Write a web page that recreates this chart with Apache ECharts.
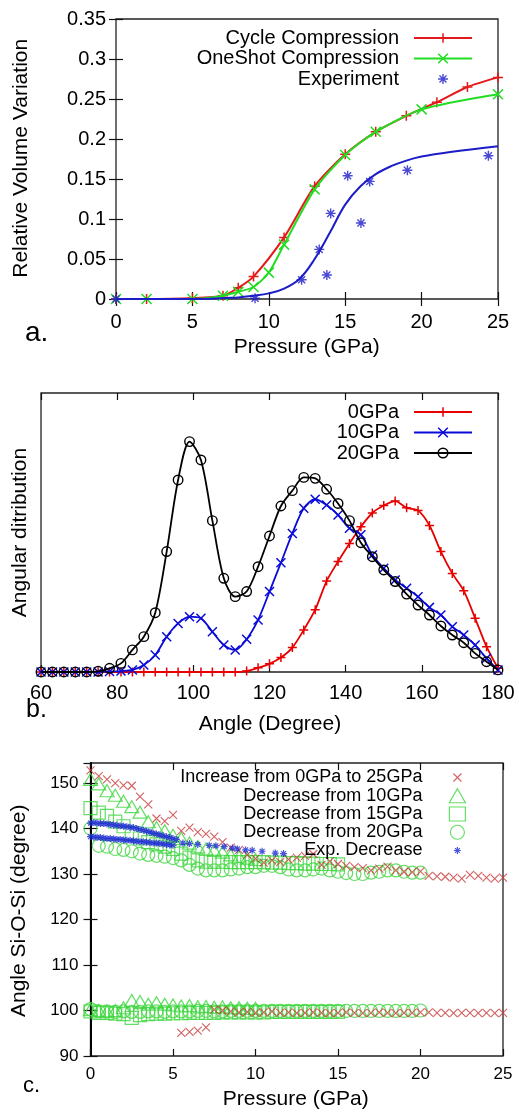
<!DOCTYPE html>
<html><head><meta charset="utf-8">
<script src="https://cdn.jsdelivr.net/npm/echarts@6/dist/echarts.min.js"></script>
<style>html,body{margin:0;padding:0;background:#fff}#c{width:519px;height:1113px}</style>
</head><body><div id="c"></div>
<script>
// ---------- Panel a: relative volume variation vs pressure ----------
const pA_cycleP = [0, 2, 5, 7, 8, 9, 11, 13, 15, 17, 19, 21, 23, 25];
const pA_cycleV = [0, 0, 0.001, 0.004, 0.014, 0.028, 0.077, 0.141, 0.181, 0.209, 0.229, 0.246, 0.265, 0.277];
const pA_oneShotP = [0, 2, 5, 7, 8, 9, 10, 11, 13, 15, 17, 20, 25];
const pA_oneShotV = [0, 0, 0, 0.004, 0.009, 0.015, 0.033, 0.068, 0.137, 0.180, 0.209, 0.237, 0.256];
const pA_expP = [0, 9.1, 12.15, 13.3, 13.8, 14.05, 15.16, 16.03, 16.6, 19.07, 24.37];
const pA_expV = [0, 0.001, 0.024, 0.062, 0.030, 0.107, 0.154, 0.095, 0.147, 0.161, 0.179];
const pA_fitP = [0, 5, 8, 9, 10, 11, 12, 13, 14, 15, 16, 17, 18, 19, 20, 22, 25];
const pA_fitV = [0, 0, 0.002, 0.004, 0.007, 0.013, 0.025, 0.05, 0.083, 0.118, 0.141, 0.156, 0.166, 0.173, 0.178, 0.184, 0.191];

// ---------- Panel b: angular distribution ----------
const pB_angle = [60,63,66,69,72,75,78,81,84,87,90,93,96,99,102,105,108,111,114,117,120,123,126,129,132,135,138,141,144,147,150,153,156,159,162,165,168,171,174,177,180];
const pB_0GPa = [0,0,0,0,0,0,0,0,0,0,0,0,0,0,0,0,0,0,0.004,0.018,0.035,0.062,0.105,0.181,0.268,0.391,0.475,0.553,0.625,0.684,0.716,0.735,0.706,0.695,0.630,0.518,0.424,0.350,0.231,0.109,0.016];
const pB_10GPa = [0,0,0,0,0,0,0.002,0.004,0.009,0.030,0.073,0.152,0.209,0.238,0.231,0.173,0.116,0.095,0.141,0.224,0.346,0.470,0.596,0.704,0.743,0.718,0.675,0.618,0.590,0.503,0.446,0.396,0.360,0.324,0.278,0.245,0.195,0.159,0.116,0.059,0.009];
const pB_20GPa = [0,0,0,0,0,0.003,0.016,0.037,0.095,0.152,0.255,0.518,0.826,0.991,0.912,0.651,0.403,0.324,0.346,0.453,0.585,0.714,0.780,0.837,0.833,0.786,0.725,0.651,0.556,0.496,0.439,0.389,0.335,0.288,0.245,0.198,0.159,0.126,0.080,0.044,0.009];

// ---------- Panel c: Si-O-Si angle vs pressure ----------
const pC_incP = [0,0.5,1,1.5,2,2.5,3,3.5,4,4.5,5,5.5,6,6.5,7,7.5,8,8.5,9,9.5,10,10.5,11,11.5,12,12.5,13,13.5,14,14.5,15,15.5,16,16.5,17,17.5,18,18.5,19,19.5,20,20.5,21,21.5,22,22.5,23,23.5,24,24.5,25];
const pC_incHigh = [152.8,151.5,150.8,150.0,149.5,149.4,147.0,145.3,142.2,141.6,143.0,139.5,140.2,139.2,138.8,138.2,137.0,135.8,135.3,134.2,133.4,132.5,133.0,132.6,133.2,133.6,134.0,134.4,132.0,132.8,132.2,131.8,131.5,131.3,130.8,131.2,131.6,130.8,130.5,130.4,130.6,129.6,129.5,129.4,129.2,129.0,129.8,129.6,129.2,129.0,129.2];
const pC_incLowP = [5.5,6,6.5,7,7.5,8,8.5,9,9.5,10,10.5,11,11.5,12,12.5,13,13.5,14,14.5,15,15.5,16,16.5,17,17.5,18,18.5,19,19.5,20,20.5,21,21.5,22,22.5,23,23.5,24,24.5,25];
const pC_incLow = [95.1,95.3,95.6,96.3,100.2,100.0,99.8,99.6,99.7,99.5,99.6,99.8,99.5,99.6,99.4,99.5,99.6,99.5,99.4,99.5,99.6,99.5,99.4,99.5,99.6,99.5,99.4,99.5,99.5,99.6,99.6,99.5,99.5,99.4,99.5,99.5,99.4,99.5,99.4,99.5];
const pC_d10P = [0,0.5,1,1.5,2,2.5,3,3.5,4,4.5,5,5.5,6,6.5,7,7.5,8,8.5,9,9.5,10];
const pC_d10High = [150.8,149.8,148.3,147.3,146.0,144.8,143.6,141.5,140.2,139.5,138.5,137.8,136.8,136.0,135.5,135.2,134.8,134.2,133.8,133.5,133.2];
const pC_d10Low = [100.2,100.0,99.8,100.0,100.6,102.2,102.0,101.4,101.7,101.4,101.2,101.0,101.1,100.8,100.9,100.7,100.8,100.6,100.6,100.5,100.5];
const pC_d15P = [0,0.5,1,1.5,2,2.5,3,3.5,4,4.5,5,5.5,6,6.5,7,7.5,8,8.5,9,9.5,10,10.5,11,11.5,12,12.5,13,13.5,14,14.5,15];
const pC_d15High = [144.5,143.5,142.8,141.5,140.5,139.0,137.8,137.0,136.5,136.0,135.5,134.5,133.6,133.0,132.7,132.7,132.7,132.6,132.6,132.6,132.6,132.6,132.5,132.5,132.4,132.4,132.3,132.3,132.2,132.2,132.1];
const pC_d15Low = [99.8,99.5,99.5,99.3,99.2,98.4,99.0,99.2,99.3,99.3,99.4,99.4,99.5,99.5,99.5,99.5,99.6,99.6,99.6,99.6,99.6,99.6,99.7,99.7,99.7,99.7,99.7,99.7,99.7,99.7,99.7];
const pC_d20P = [0,0.5,1,1.5,2,2.5,3,3.5,4,4.5,5,5.5,6,6.5,7,7.5,8,8.5,9,9.5,10,10.5,11,11.5,12,12.5,13,13.5,14,14.5,15,15.5,16,16.5,17,17.5,18,18.5,19,19.5,20];
const pC_d20High = [140.0,136.2,136.0,135.5,135.3,135.0,134.5,134.2,134.0,133.8,133.5,133.0,132.0,131.2,130.8,130.8,130.8,131.0,131.2,131.5,131.5,131.8,131.8,131.5,131.0,130.8,130.8,131.0,131.2,130.8,130.5,130.2,130.0,130.0,130.3,130.5,130.8,130.8,130.5,130.3,130.3];
const pC_d20Low = [100.3,99.8,99.8,99.7,99.8,99.7,99.7,99.8,99.8,99.7,99.8,99.8,99.8,99.9,99.9,99.8,99.8,99.9,99.9,99.9,99.9,99.9,99.9,99.9,99.9,99.9,99.9,99.9,99.9,99.9,99.9,99.9,99.9,99.9,99.9,99.9,99.9,99.9,99.9,99.9,100.0];
const pC_expUpperP = [0,0.2,0.4,0.6,0.8,1.0,1.2,1.4,1.6,1.8,2.0,2.2,2.4,2.6,2.8,3.0,3.2,3.4,3.6,3.8,4.0,4.2,4.4,4.6,4.8,5.0,5.2];
const pC_expUpper = [141.2,141.3,141.2,141.1,141.1,141.0,140.9,140.8,140.7,140.6,140.5,140.4,140.3,140.2,140.0,139.8,139.6,139.4,139.2,139.0,138.8,138.6,138.4,138.2,138.0,137.8,137.6];
const pC_expLowerP = [0,0.2,0.4,0.6,0.8,1.0,1.2,1.4,1.6,1.8,2.0,2.2,2.4,2.6,2.8,3.0,3.2,3.4,3.6,3.8,4.0,4.2,4.4,4.6,4.8,5.0];
const pC_expLower = [138.2,138.1,138.1,138.0,137.9,137.8,137.8,137.7,137.6,137.6,137.5,137.4,137.4,137.3,137.2,137.1,137.1,137.0,136.9,136.8,136.8,136.7,136.6,136.5,136.4,136.3];
const pC_expTailP = [5.6,6.0,6.5,7.2,7.6,8.1,8.6,8.9,9.4,9.8,10.4,11.2,11.7];
const pC_expTail = [136.8,136.7,136.5,136.3,136.2,136.0,135.7,135.5,135.3,135.2,135.0,134.6,134.5];

const FONT = '"Liberation Sans", Arial, Helvetica, sans-serif';
const PLUS = 'path://M0,-5L0,5M-5,0L5,0';
const CROSS = 'path://M-5,-5L5,5M-5,5L5,-5';
const STAR = 'path://M0,-5L0,5M-5,0L5,0M-3.5,-3.5L3.5,3.5M-3.5,3.5L3.5,-3.5';
function padIcon(p, s) { return 'path://M-' + s + ',-' + s + 'M' + s + ',' + s + p.slice(7); }
function zip(a, b) { return a.map((v, i) => [v, b[i]]); }

const RED_A = '#e41a1a', GREEN_A = '#22dd22', BLUE_A = '#1c1cc8';
const RED_B = '#e60000', BLUE_B = '#0a0ad8', BLACK = '#000000';
const RED_C = '#c93a3a', GREEN_C = '#3fd63f', BLUE_C = '#1a2bd0';

function xAxis(grid, min, max, interval, pos, show, fs, margin) {
  return { type: 'value', gridIndex: grid, min: min, max: max, interval: interval, position: pos,
    axisLine: { show: false }, splitLine: { show: false },
    axisTick: { show: true, inside: true, length: 7, lineStyle: { color: '#111', width: 1.2 } },
    axisLabel: { show: show, fontSize: fs, fontFamily: FONT, color: '#000', margin: margin } };
}
function yAxis(grid, min, max, interval, pos, show, fs, margin, ticks) {
  return { type: 'value', gridIndex: grid, min: min, max: max, interval: interval, position: pos,
    axisLine: { show: false }, splitLine: { show: false },
    axisTick: { show: ticks, inside: true, length: 7, lineStyle: { color: '#111', width: 1.2 } },
    axisLabel: { show: show, fontSize: fs, fontFamily: FONT, color: '#000', margin: margin, showMaxLabel: true } };
}

const yC = yAxis(2, 90, 154.4, 10, 'left', true, 17, 12, true);
yC.axisLabel.showMaxLabel = false;
yC.axisLine = { show: true, lineStyle: { color: '#000', width: 2 } };
const yCR = yAxis(2, 90, 154.4, 10, 'right', false, 17, 12, true);

const legendText = (fs, lh, pr) => ({ fontSize: fs, fontFamily: FONT, color: '#000', lineHeight: lh, padding: [0, pr, 0, 0] });

const option = {
  animation: false,
  backgroundColor: '#fff',
  grid: [
    { left: 116, top: 19, width: 382, height: 280, show: true, borderColor: '#222', borderWidth: 1.3, backgroundColor: 'transparent', outerBoundsMode: 'none' },
    { left: 41, top: 393, width: 457, height: 279, show: true, borderColor: '#222', borderWidth: 1.3, backgroundColor: 'transparent', outerBoundsMode: 'none' },
    { left: 90.5, top: 763, width: 412.5, height: 293, show: true, borderColor: '#222', borderWidth: 1.3, backgroundColor: 'transparent', outerBoundsMode: 'none' }
  ],
  xAxis: [
    xAxis(0, 0, 25, 5, 'bottom', true, 20, 13.5),
    xAxis(0, 0, 25, 5, 'top', false, 20, 8),
    xAxis(1, 60, 180, 20, 'bottom', true, 20, 11),
    xAxis(1, 60, 180, 20, 'top', false, 20, 8),
    xAxis(2, 0, 25, 5, 'bottom', true, 17, 9.5),
    xAxis(2, 0, 25, 5, 'top', false, 17, 8)
  ],
  yAxis: [
    yAxis(0, 0, 0.35, 0.05, 'left', true, 20, 10, true),
    yAxis(0, 0, 0.35, 0.05, 'right', false, 20, 10, true),
    yAxis(1, 0, 1.2, 0.2, 'left', false, 20, 10, false),
    yC,
    yCR
  ],
  legend: [
    { orient: 'vertical', align: 'right', right: 46, top: 28, padding: 0, itemWidth: 58, itemHeight: 12, itemGap: 0.5,
      symbolKeepAspect: true, selectedMode: false, textStyle: legendText(20, 20, 10),
      data: [
        { name: 'Cycle Compression', itemStyle: { color: RED_A, borderColor: RED_A, borderWidth: 1.5 }, lineStyle: { color: RED_A, width: 2 } },
        { name: 'OneShot Compression', itemStyle: { color: GREEN_A, borderColor: GREEN_A, borderWidth: 1.5 }, lineStyle: { color: GREEN_A, width: 2 } },
        { name: 'Experiment', icon: padIcon(STAR, 6), itemStyle: { color: BLUE_A, borderColor: BLUE_A, borderWidth: 1.4 } }
      ] },
    { orient: 'vertical', align: 'right', right: 46, top: 402, padding: 0, itemWidth: 58, itemHeight: 12, itemGap: 0.5,
      symbolKeepAspect: true, selectedMode: false, textStyle: legendText(20, 20, 10),
      data: [
        { name: '0GPa', itemStyle: { color: RED_B, borderColor: RED_B, borderWidth: 1.5 }, lineStyle: { color: RED_B, width: 2 } },
        { name: '10GPa', itemStyle: { color: BLUE_B, borderColor: BLUE_B, borderWidth: 1.5 }, lineStyle: { color: BLUE_B, width: 2 } },
        { name: '20GPa', itemStyle: { color: 'transparent', borderColor: BLACK, borderWidth: 1.5 }, lineStyle: { color: BLACK, width: 2 } }
      ] },
    { orient: 'vertical', align: 'right', right: 53, top: 768.5, padding: 0, itemWidth: 16, itemHeight: 14, itemGap: 0.25,
      symbolKeepAspect: true, selectedMode: false, textStyle: legendText(18, 17, 22),
      data: [
        { name: 'Increase from 0GPa to 25GPa', icon: padIcon(CROSS, 8.75), itemStyle: { color: RED_C, borderColor: RED_C, borderWidth: 1.1 } },
        { name: 'Decrease from 10GPa', icon: 'triangle', itemStyle: { color: 'transparent', borderColor: GREEN_C, borderWidth: 1.2 } },
        { name: 'Decrease from 15GPa', icon: 'rect', itemStyle: { color: 'transparent', borderColor: GREEN_C, borderWidth: 1.2 } },
        { name: 'Decrease from 20GPa', icon: 'circle', itemStyle: { color: 'transparent', borderColor: GREEN_C, borderWidth: 1.2 } },
        { name: 'Exp. Decrease', icon: padIcon(STAR, 10), itemStyle: { color: BLUE_C, borderColor: BLUE_C, borderWidth: 1.2 } }
      ] }
  ],
  series: [
    // panel a
    { name: 'Cycle Compression', type: 'line', xAxisIndex: 0, yAxisIndex: 0, data: zip(pA_cycleP, pA_cycleV),
      smooth: 0.25, symbol: PLUS, symbolSize: 10, showAllSymbol: true, z: 3,
      lineStyle: { color: RED_A, width: 2 }, itemStyle: { color: RED_A, borderColor: RED_A, borderWidth: 1.5 } },
    { name: 'OneShot Compression', type: 'line', xAxisIndex: 0, yAxisIndex: 0, data: zip(pA_oneShotP, pA_oneShotV),
      smooth: 0.25, symbol: CROSS, symbolSize: 10, showAllSymbol: true, z: 4,
      lineStyle: { color: GREEN_A, width: 2 }, itemStyle: { color: GREEN_A, borderColor: GREEN_A, borderWidth: 1.5 } },
    { name: 'fit', type: 'line', xAxisIndex: 0, yAxisIndex: 0, data: zip(pA_fitP, pA_fitV),
      smooth: 0.4, symbol: 'none', z: 5, lineStyle: { color: BLUE_A, width: 2 } },
    { name: 'Experiment', type: 'scatter', xAxisIndex: 0, yAxisIndex: 0, data: zip(pA_expP, pA_expV),
      symbol: STAR, symbolSize: 10, clip: false, z: 6, itemStyle: { color: BLUE_A, borderColor: BLUE_A, borderWidth: 1.4 } },
    // panel b
    { name: '0GPa', type: 'line', xAxisIndex: 2, yAxisIndex: 2, data: zip(pB_angle, pB_0GPa),
      smooth: 0.3, symbol: PLUS, symbolSize: 9, showAllSymbol: true, clip: false, z: 3,
      lineStyle: { color: RED_B, width: 1.8 }, itemStyle: { color: RED_B, borderColor: RED_B, borderWidth: 1.5 } },
    { name: '10GPa', type: 'line', xAxisIndex: 2, yAxisIndex: 2, data: zip(pB_angle, pB_10GPa),
      smooth: 0.3, symbol: CROSS, symbolSize: 9, showAllSymbol: true, clip: false, z: 4,
      lineStyle: { color: BLUE_B, width: 1.8 }, itemStyle: { color: BLUE_B, borderColor: BLUE_B, borderWidth: 1.5 } },
    { name: '20GPa', type: 'line', xAxisIndex: 2, yAxisIndex: 2, data: zip(pB_angle, pB_20GPa),
      smooth: 0.3, symbol: 'circle', symbolSize: 9.5, showAllSymbol: true, clip: false, z: 5,
      lineStyle: { color: BLACK, width: 1.8 }, itemStyle: { color: 'transparent', borderColor: BLACK, borderWidth: 1.4 } },
    // panel c
    { name: 'Decrease from 10GPa', type: 'scatter', xAxisIndex: 4, yAxisIndex: 3, clip: false, z: 2,
      data: zip(pC_d10P, pC_d10High).concat(zip(pC_d10P, pC_d10Low)), symbol: 'triangle', symbolSize: [14, 12],
      itemStyle: { color: 'transparent', borderColor: GREEN_C, borderWidth: 1.2 } },
    { name: 'Decrease from 15GPa', type: 'scatter', xAxisIndex: 4, yAxisIndex: 3, clip: false, z: 2,
      data: zip(pC_d15P, pC_d15High).concat(zip(pC_d15P, pC_d15Low)), symbol: 'rect', symbolSize: 13,
      itemStyle: { color: 'transparent', borderColor: GREEN_C, borderWidth: 1.2 } },
    { name: 'Decrease from 20GPa', type: 'scatter', xAxisIndex: 4, yAxisIndex: 3, clip: false, z: 2,
      data: zip(pC_d20P, pC_d20High).concat(zip(pC_d20P, pC_d20Low)), symbol: 'circle', symbolSize: 13,
      itemStyle: { color: 'transparent', borderColor: GREEN_C, borderWidth: 1.2 } },
    { name: 'Increase from 0GPa to 25GPa', type: 'scatter', xAxisIndex: 4, yAxisIndex: 3, clip: false, z: 3,
      data: zip(pC_incP, pC_incHigh).concat(zip(pC_incLowP, pC_incLow)), symbol: CROSS, symbolSize: 8,
      itemStyle: { color: RED_C, borderColor: RED_C, borderWidth: 1.1 } },
    { name: 'Exp. Decrease', type: 'scatter', xAxisIndex: 4, yAxisIndex: 3, clip: false, z: 4,
      data: zip(pC_expUpperP, pC_expUpper).concat(zip(pC_expLowerP, pC_expLower), zip(pC_expTailP, pC_expTail)),
      symbol: STAR, symbolSize: 7, itemStyle: { color: BLUE_C, borderColor: BLUE_C, borderWidth: 1.2 } }
  ],
  graphic: [
    { type: 'text', x: 21.7, y: 158.3, rotation: Math.PI / 2, z: 100, style: { text: 'Relative Volume Variation', fontSize: 21, fontFamily: FONT, fill: '#000', align: 'center', verticalAlign: 'middle' } },
    { type: 'text', x: 306.7, y: 347.5, z: 100, style: { text: 'Pressure (GPa)', fontSize: 21, fontFamily: FONT, fill: '#000', align: 'center', verticalAlign: 'middle' } },
    { type: 'text', x: 25, y: 333.3, z: 100, style: { text: 'a.', fontSize: 28, fontFamily: FONT, fill: '#000', align: 'left', verticalAlign: 'middle' } },
    { type: 'text', x: 20.5, y: 532.5, rotation: Math.PI / 2, z: 100, style: { text: 'Angular ditribution', fontSize: 21, fontFamily: FONT, fill: '#000', align: 'center', verticalAlign: 'middle' } },
    { type: 'text', x: 270, y: 724, z: 100, style: { text: 'Angle (Degree)', fontSize: 21, fontFamily: FONT, fill: '#000', align: 'center', verticalAlign: 'middle' } },
    { type: 'text', x: 26, y: 710, z: 100, style: { text: 'b.', fontSize: 25, fontFamily: FONT, fill: '#000', align: 'left', verticalAlign: 'middle' } },
    { type: 'text', x: 19.5, y: 910.8, rotation: Math.PI / 2, z: 100, style: { text: 'Angle Si-O-Si (degree)', fontSize: 21, fontFamily: FONT, fill: '#000', align: 'center', verticalAlign: 'middle' } },
    { type: 'text', x: 295.8, y: 1099, z: 100, style: { text: 'Pressure (GPa)', fontSize: 21, fontFamily: FONT, fill: '#000', align: 'center', verticalAlign: 'middle' } },
    { type: 'text', x: 23, y: 1085.7, z: 100, style: { text: 'c.', fontSize: 22, fontFamily: FONT, fill: '#000', align: 'left', verticalAlign: 'middle' } }
  ]
};

const chart = echarts.init(document.getElementById('c'), null, { renderer: 'canvas' });
chart.setOption(option);
</script></body></html>
